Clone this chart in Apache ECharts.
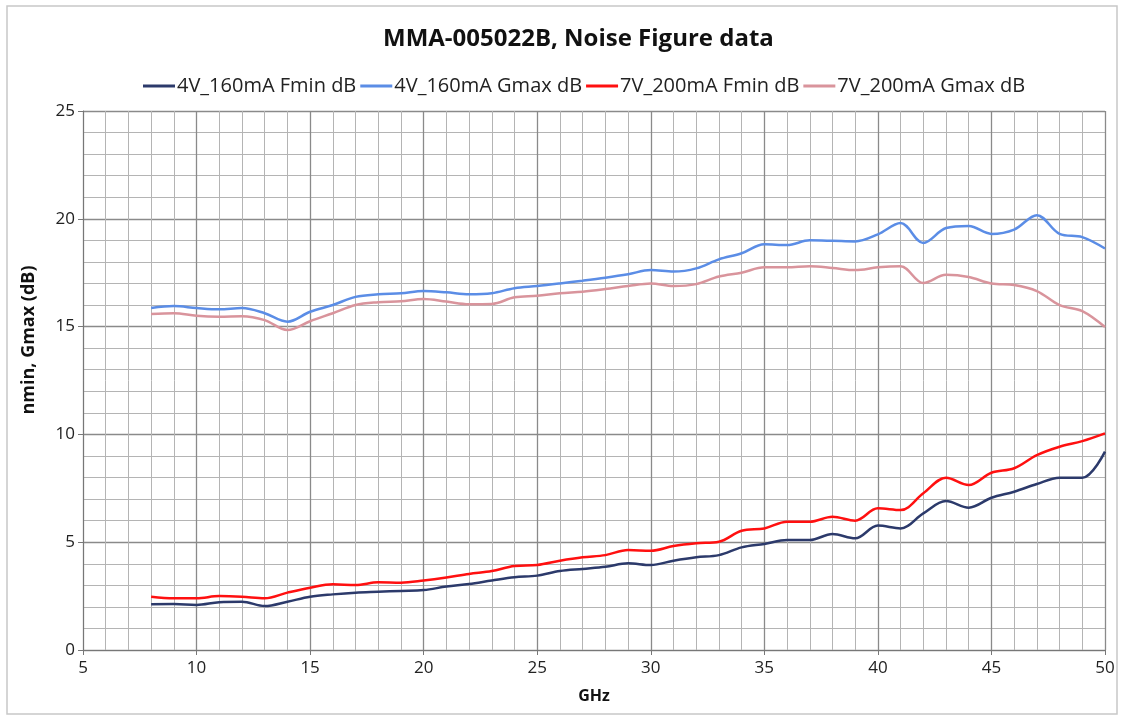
<!DOCTYPE html>
<html>
<head>
<meta charset="utf-8">
<title>MMA-005022B, Noise Figure data</title>
<script src="https://cdn.jsdelivr.net/npm/echarts@6/dist/echarts.min.js"></script>
<style>
    html, body { margin: 0; padding: 0; background: #fff; }
    #chart { width: 1123px; height: 721px; }
</style>
</head>
<body>
<div id="chart"></div>
<script>
// frequency points, GHz
var freq = [8, 9, 10, 11, 12, 13, 14, 15, 16, 17, 18, 19, 20, 21, 22, 23, 24, 25, 26, 27, 28, 29,
    30, 31, 32, 33, 34, 35, 36, 37, 38, 39, 40, 41, 42, 43, 44, 45, 46, 47, 48, 49, 50];

// values, dB
var fmin4V = [2.12, 2.13, 2.09, 2.22, 2.24, 2.04, 2.24, 2.47, 2.58, 2.66, 2.7, 2.74, 2.78, 2.94, 3.06, 3.22, 3.37, 3.45, 3.66, 3.76, 3.86, 4.02,
    3.94, 4.14, 4.3, 4.4, 4.76, 4.92, 5.1, 5.1, 5.38, 5.18, 5.77, 5.64, 6.34, 6.91, 6.6, 7.06, 7.34, 7.7, 7.99, 7.99, 9.2];
var gmax4V = [15.86, 15.95, 15.86, 15.8, 15.86, 15.62, 15.23, 15.69, 16.0, 16.38, 16.5, 16.55, 16.65, 16.59, 16.5, 16.55, 16.78, 16.88, 17.0, 17.13, 17.27, 17.43,
    17.62, 17.55, 17.7, 18.12, 18.4, 18.82, 18.78, 19.0, 18.98, 18.95, 19.28, 19.8, 18.88, 19.57, 19.67, 19.3, 19.5, 20.17, 19.3, 19.15, 18.62];
var fmin7V = [2.47, 2.4, 2.4, 2.5, 2.47, 2.4, 2.66, 2.89, 3.05, 3.01, 3.14, 3.12, 3.22, 3.36, 3.53, 3.66, 3.9, 3.94, 4.14, 4.3, 4.4, 4.64,
    4.6, 4.82, 4.95, 5.02, 5.53, 5.64, 5.95, 5.95, 6.18, 6.0, 6.57, 6.49, 7.27, 7.99, 7.65, 8.22, 8.43, 9.04, 9.43, 9.69, 10.05];
var gmax7V = [15.58, 15.62, 15.5, 15.46, 15.48, 15.3, 14.84, 15.25, 15.62, 16.0, 16.13, 16.18, 16.28, 16.16, 16.04, 16.05, 16.36, 16.43, 16.55, 16.62, 16.74, 16.88,
    17.0, 16.88, 16.97, 17.32, 17.5, 17.75, 17.75, 17.8, 17.72, 17.62, 17.75, 17.8, 17.02, 17.4, 17.3, 17.0, 16.93, 16.65, 16.0, 15.72, 14.98];

var seriesNames = ['4V_160mA Fmin dB', '4V_160mA Gmax dB', '7V_200mA Fmin dB', '7V_200mA Gmax dB'];
var seriesColors = ['#2c3a6b', '#5b8de6', '#ff1010', '#d9949c'];
var seriesValues = [fmin4V, gmax4V, fmin7V, gmax7V];

function pairs(vals) {
    return freq.map(function (f, i) { return [f, vals[i]]; });
}

var chart = echarts.init(document.getElementById('chart'));
var font = '"Open Sans", "DejaVu Sans", sans-serif';

const option = {
    backgroundColor: '#fff',
    animation: false,
    graphic: [{
        type: 'rect',
        shape: { x: 7, y: 6, width: 1110, height: 708 },
        style: { fill: 'none', stroke: '#c8c8c8', lineWidth: 1.5 }
    }, {
        // y axis title (its first letter is cut off in the original)
        type: 'text',
        x: 29,
        y: 340,
        rotation: Math.PI / 2,
        style: {
            text: 'nmin, Gmax (dB)',
            fontFamily: font,
            fontSize: 18,
            fontWeight: 'bold',
            fill: '#111',
            textAlign: 'center',
            textVerticalAlign: 'middle'
        }
    }],
    title: {
        text: 'MMA-005022B, Noise Figure data',
        left: 378,
        top: 22,
        textStyle: { fontFamily: font, fontSize: 24, fontWeight: 'bold', color: '#111' }
    },
    legend: {
        top: 71,
        left: 138,
        data: seriesNames,
        icon: 'rect',
        itemWidth: 32,
        itemHeight: 3,
        itemGap: 4,
        textStyle: { fontFamily: font, fontSize: 20, color: '#222', padding: [0, 0, 0, -3] }
    },
    grid: { left: 83, right: 18, top: 111, bottom: 71 },
    xAxis: {
        type: 'value',
        min: 5,
        max: 50,
        interval: 5,
        name: 'GHz',
        nameLocation: 'middle',
        nameGap: 38,
        nameTextStyle: { fontFamily: font, fontSize: 16, fontWeight: 'bold', color: '#111' },
        axisLine: { lineStyle: { color: '#777' } },
        axisTick: { show: true, length: 5, lineStyle: { color: '#777' } },
        axisLabel: { fontFamily: font, fontSize: 17, color: '#222', margin: 10 },
        splitLine: { show: true, lineStyle: { color: '#8a8a8a', width: 1.3 } },
        minorTick: { show: false, splitNumber: 5 },
        minorSplitLine: { show: true, lineStyle: { color: '#b4b4b4', width: 1 } }
    },
    yAxis: {
        type: 'value',
        min: 0,
        max: 25,
        interval: 5,
        axisLine: { show: true, lineStyle: { color: '#777' } },
        axisTick: { show: true, length: 5, lineStyle: { color: '#777' } },
        axisLabel: { fontFamily: font, fontSize: 17, color: '#222', margin: 8 },
        splitLine: { show: true, lineStyle: { color: '#8a8a8a', width: 1.3 } },
        minorTick: { show: false, splitNumber: 5 },
        minorSplitLine: { show: true, lineStyle: { color: '#b4b4b4', width: 1 } }
    },
    series: seriesNames.map(function (name, i) {
        return {
            name: name,
            type: 'line',
            data: pairs(seriesValues[i]),
            smooth: 0.35,
            showSymbol: false,
            color: seriesColors[i],
            lineStyle: { width: 2.5, color: seriesColors[i] }
        };
    })
};

chart.setOption(option);
window.addEventListener('resize', function () {
    chart.resize();
});
</script>
</body>
</html>
